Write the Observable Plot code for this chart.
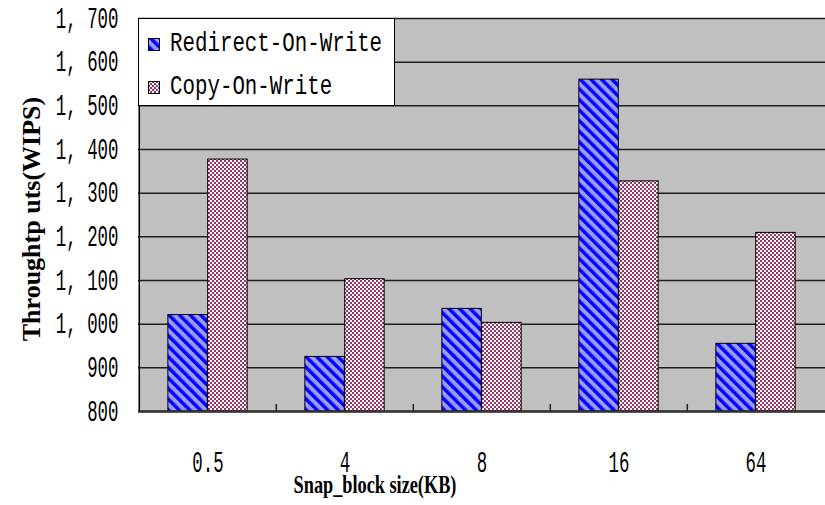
<!DOCTYPE html>
<html>
<head>
<meta charset="utf-8">
<script src="https://cdn.jsdelivr.net/npm/d3@7"></script>
<script src="https://cdn.jsdelivr.net/npm/@observablehq/plot@0.6"></script>
<style>
  body { margin: 0; background: #fff; }
  #wrap { position: relative; width: 825px; height: 505px; }
  #legend {
    position: absolute; left: 138px; top: 18px; width: 257px; height: 88px;
    box-sizing: border-box; border: 1px solid #000; background: #fff;
    font-family: "Liberation Mono", monospace; font-size: 27px; color: #000;
  }
  #legend .row { position: absolute; left: 9px; height: 26px; display: flex; align-items: center; white-space: nowrap; }
  #legend .row svg { display: block; margin-right: 10px; }
  #legend .row span { display: inline-block; transform: scaleX(0.77); transform-origin: 0 50%; line-height: 26px; }
</style>
</head>
<body>
<!-- shared fill patterns for bars and legend swatches -->
<svg width="0" height="0" style="position:absolute">
  <defs>
    <pattern id="hatch-row" patternUnits="userSpaceOnUse" width="7.5" height="7.5" patternTransform="rotate(-45)">
      <rect width="7.5" height="7.5" fill="#9999ff"></rect>
      <rect width="3.4" height="7.5" fill="#0000ff"></rect>
    </pattern>
    <pattern id="check-cow" patternUnits="userSpaceOnUse" width="4" height="4">
      <rect width="4" height="4" fill="#ffffff"></rect>
      <rect width="2" height="2" fill="#993366"></rect>
      <rect x="2" y="2" width="2" height="2" fill="#993366"></rect>
    </pattern>
  </defs>
</svg>
<div id="wrap">
  <div id="chart"></div>
  <div id="legend"></div>
</div>
<script>
// Snap block sizes (KB) on the x axis
const blockSizes = ["0.5", "4", "8", "16", "64"];
// Throughput (WIPS) per snapshot strategy
const redirectOnWrite = [1021, 925, 1035, 1560, 955];
const copyOnWrite = [1377, 1103, 1003, 1327, 1209];
const seriesNames = ["Redirect-On-Write", "Copy-On-Write"];
const seriesFills = ["url(#hatch-row)", "url(#check-cow)"];
const yTicks = [800, 900, 1000, 1100, 1200, 1300, 1400, 1500, 1600, 1700];
const xLabel = "Snap_block size(KB)";
const yLabel = "Throughtp uts(WIPS)";

const W = 825, H = 505;
const mL = 138, mT = 18, mR = 0, mB = 94;
const yMin = yTicks[0], yMax = yTicks[yTicks.length - 1];
const step = (W - mL - mR) / blockSizes.length;
const outerGap = step * 0.21;
const pxPerUnit = (H - mT - mB) / (yMax - yMin);

const rows = blockSizes.map((s, i) => ({size: s, row: redirectOnWrite[i], cow: copyOnWrite[i]}));

const chart = Plot.plot({
  width: W, height: H,
  marginLeft: mL, marginTop: mT, marginRight: mR, marginBottom: mB,
  style: {background: "transparent", overflow: "visible"},
  x: {domain: blockSizes, padding: 0},
  y: {domain: [yMin, yMax]},
  marks: [
    Plot.frame({fill: "#c0c0c0", stroke: null}),
    Plot.gridY(yTicks, {stroke: "#1e1e1e", strokeOpacity: 1, strokeWidth: 1.5}),
    Plot.barY(rows, {x: "size", y1: yMin, y2: "row", fill: seriesFills[0], stroke: "#000", strokeWidth: 1,
      insetLeft: outerGap, insetRight: step / 2}),
    Plot.barY(rows, {x: "size", y1: yMin, y2: "cow", fill: seriesFills[1], stroke: "#000", strokeWidth: 1,
      insetLeft: step / 2, insetRight: outerGap}),
    // category separator ticks rising from the base line
    Plot.ruleX(blockSizes.slice(1), {x: d => d, dx: -step / 2, y1: yMin, y2: yMin + 7 / pxPerUnit, stroke: "#222", strokeWidth: 1.5}),
    // left axis line
    Plot.ruleX(blockSizes.slice(0, 1), {x: d => d, dx: -step / 2, stroke: "#000", strokeWidth: 1.5}),
    Plot.ruleY([yMin], {stroke: "#333", strokeWidth: 2.5}),
    Plot.axisY(yTicks, {tickSize: 0, tickPadding: 20, label: null,
      tickFormat: d => d3.format(",")(d).replace(",", ", "),
      fontFamily: "Liberation Mono", fontSize: 29, fill: "#000"}),
    Plot.axisX({tickSize: 0, tickPadding: 40, label: null,
      fontFamily: "Liberation Mono", fontSize: 29, fill: "#000"}),
    Plot.text([xLabel], {text: d => d, frameAnchor: "bottom", dx: -107, dy: 81,
      fontFamily: "Liberation Serif", fontWeight: "bold", fontSize: 25, fill: "#000"}),
    Plot.text([yLabel], {text: d => d, frameAnchor: "left", textAnchor: "middle", rotate: -90, dx: -107, dy: 4,
      fontFamily: "Liberation Serif", fontWeight: "bold", fontSize: 26, fill: "#000"})
  ]
});
document.getElementById("chart").append(chart);

// narrow the monospaced tick labels and the x title to a condensed look
function squeeze(nodes, k) {
  nodes.forEach(node => {
    const len = node.getComputedTextLength();
    node.setAttribute("textLength", len * k);
    node.setAttribute("lengthAdjust", "spacingAndGlyphs");
  });
}
const allText = Array.from(chart.querySelectorAll("text"));
squeeze(Array.from(chart.querySelectorAll('g[aria-label="y-axis tick label"] text, g[aria-label="x-axis tick label"] text')), 0.6);
squeeze(allText.filter(t => t.textContent === xLabel), 0.73);

// legend box
const legend = d3.select("#legend");
seriesNames.forEach((name, i) => {
  const row = legend.append("div").attr("class", "row").style("top", `${12 + i * 43}px`);
  const sw = row.append("svg").attr("width", 12).attr("height", 13);
  sw.append("rect").attr("x", 0.5).attr("y", 0.5).attr("width", 11).attr("height", 12)
    .attr("fill", seriesFills[i]).attr("stroke", "#000");
  row.append("span").text(name);
});
</script>
</body>
</html>
